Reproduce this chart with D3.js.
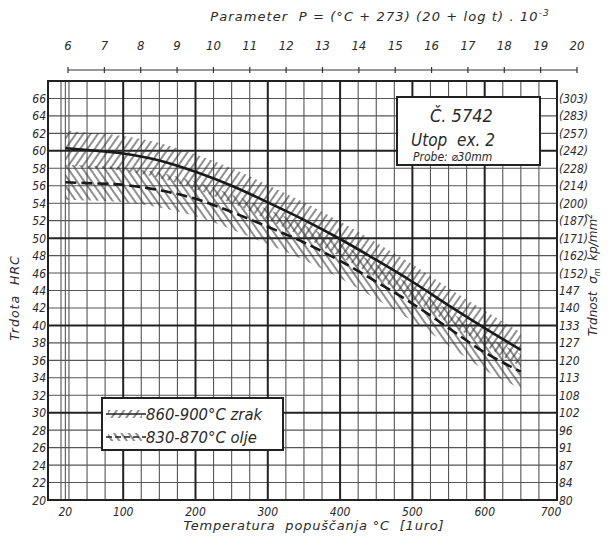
<!DOCTYPE html>
<html><head><meta charset="utf-8">
<script src="https://cdn.jsdelivr.net/npm/d3@7"></script>
<style>
body{margin:0;background:#fff}
text{font-family:"DejaVu Sans Condensed","DejaVu Sans",sans-serif;font-style:italic;fill:#2a2a2a}
text.wide{font-family:"DejaVu Sans",sans-serif}
</style>
</head><body>
<svg id="chart" width="615" height="540"></svg>
<script>
// Tempering temperature (°C) and hardness (HRC) for steel Č.5742 (Utop ex. 2)
const temps   = [20, 50, 100, 150, 200, 250, 300, 350, 400, 450, 500, 550, 600, 650];
const hrcAir  = [60.3, 60.1, 59.7, 58.9, 57.6, 56.0, 54.1, 52.1, 49.9, 47.5, 45.0, 42.3, 39.7, 37.2]; // 860-900°C zrak
const hrcOil  = [56.4, 56.3, 56.1, 55.5, 54.5, 53.0, 51.3, 49.5, 47.4, 45.0, 42.5, 39.7, 36.9, 34.7]; // 830-870°C olje
const scatterHalf = 2; // HRC spread around each curve

// Axis ticks
const tempTicks  = [20, 100, 200, 300, 400, 500, 600, 700];
const hrcTicks   = [66, 64, 62, 60, 58, 56, 54, 52, 50, 48, 46, 44, 42, 40, 38, 36, 34, 32, 30, 28, 26, 24, 22, 20];
const strengthLabels = ["(303)","(283)","(257)","(242)","(228)","(214)","(200)","(187)","(171)","(162)","(152)",
  "147","140","133","127","120","113","108","102","96","91","87","84","80"];
const paramTicks = [6, 7, 8, 9, 10, 11, 12, 13, 14, 15, 16, 17, 18, 19, 20];
const tempGridExtra = [14, 20];

const svg = d3.select("#chart");
const x = d3.scaleLinear().domain([-4, 700]).range([48, 557]);
const y = d3.scaleLinear().domain([20, 68]).range([500, 81]);
const xp = d3.scaleLinear().domain([6, 20]).range([68, 577]);

// hatch patterns
const defs = svg.append("defs");
function hatch(id, angle) {
  const p = defs.append("pattern").attr("id", id).attr("patternUnits", "userSpaceOnUse")
    .attr("width", 6).attr("height", 10).attr("patternTransform", `rotate(${angle})`);
  p.append("line").attr("x1", 1).attr("x2", 1).attr("y1", -1).attr("y2", 11)
    .attr("stroke", "#333").attr("stroke-width", 1.1);
}
hatch("hAir", 35);
hatch("hOil", -35);

// grid
const g = svg.append("g");
const minorT = d3.range(25, 700, 25).filter(t => t % 100 !== 0).concat(tempGridExtra);
const majorT = d3.range(100, 700, 100);
const minorH = d3.range(22, 68, 2).filter(h => h % 10 !== 0);
const majorH = [30, 40, 50, 60];
g.selectAll(".vm").data(minorT).join("line")
  .attr("x1", d => x(d)).attr("x2", d => x(d)).attr("y1", y(68)).attr("y2", y(20))
  .attr("stroke", "#555").attr("stroke-width", 1.1);
g.selectAll(".hm").data(minorH).join("line")
  .attr("x1", x(-4)).attr("x2", x(700)).attr("y1", d => y(d)).attr("y2", d => y(d))
  .attr("stroke", "#555").attr("stroke-width", 1.1);
g.selectAll(".vM").data(majorT).join("line")
  .attr("x1", d => x(d)).attr("x2", d => x(d)).attr("y1", y(68)).attr("y2", y(20))
  .attr("stroke", "#222").attr("stroke-width", 2);
g.selectAll(".hM").data(majorH).join("line")
  .attr("x1", x(-4)).attr("x2", x(700)).attr("y1", d => y(d)).attr("y2", d => y(d))
  .attr("stroke", "#222").attr("stroke-width", 2);
g.append("rect").attr("x", x(-4)).attr("y", y(68)).attr("width", x(700) - x(-4)).attr("height", y(20) - y(68))
  .attr("fill", "none").attr("stroke", "#222").attr("stroke-width", 2);

// scatter bands
const rows = temps.map((t, i) => ({t, air: hrcAir[i], oil: hrcOil[i]}));
const curve = d3.curveCatmullRom.alpha(0.5);
function band(key, fillId) {
  const area = d3.area().curve(curve)
    .x(d => x(d.t)).y0(d => y(d[key] - scatterHalf)).y1(d => y(d[key] + scatterHalf));
  svg.append("path").datum(rows).attr("d", area).attr("fill", `url(#${fillId})`);
}
band("air", "hAir");
band("oil", "hOil");

// curves
const line = key => d3.line().curve(curve).x(d => x(d.t)).y(d => y(d[key]));
svg.append("path").datum(rows).attr("d", line("air")).attr("fill", "none")
  .attr("stroke", "#1a1a1a").attr("stroke-width", 2.6);
svg.append("path").datum(rows).attr("d", line("oil")).attr("fill", "none")
  .attr("stroke", "#1a1a1a").attr("stroke-width", 2.6).attr("stroke-dasharray", "11,5");

// left axis labels
svg.append("g").selectAll("text").data(hrcTicks).join("text")
  .attr("x", 46).attr("y", d => y(d) + 4.5).attr("text-anchor", "end").attr("font-size", 12).text(d => d);
// right axis labels
svg.append("g").selectAll("text").data(hrcTicks).join("text")
  .attr("x", 559).attr("y", d => y(d) + 4.5).attr("font-size", 12)
  .text((d, i) => strengthLabels[i]);
// bottom axis labels
svg.append("g").selectAll("text").data(tempTicks).join("text")
  .attr("x", d => x(d) - (d === 700 ? 6 : 0)).attr("y", 516).attr("text-anchor", "middle").attr("font-size", 12).text(d => d);

// axis titles
svg.append("text").attr("class", "wide").attr("transform", "translate(19,298) rotate(-90)").attr("text-anchor", "middle")
  .attr("font-size", 12.5).attr("letter-spacing", 1).attr("xml:space", "preserve").text("Trdota  HRC");
const rt = svg.append("text").attr("class", "wide").attr("transform", "translate(597,275) rotate(-90)").attr("text-anchor", "middle")
  .attr("font-size", 12).attr("xml:space", "preserve");
rt.append("tspan").text("Trdnost  σ");
rt.append("tspan").attr("font-size", 8).attr("dy", 3).text("m");
rt.append("tspan").attr("dy", -3).text("  kp/mm");
rt.append("tspan").attr("font-size", 8).attr("dy", -5).text("2");
svg.append("text").attr("class", "wide").attr("x", 314).attr("y", 530).attr("text-anchor", "middle").attr("font-size", 13)
  .attr("letter-spacing", 0.8).attr("xml:space", "preserve").text("Temperatura  popuščanja °C  [1uro]");

// parameter axis on top
const ta = svg.append("g");
ta.append("line").attr("x1", xp(6)).attr("x2", xp(20)).attr("y1", 70).attr("y2", 70)
  .attr("stroke", "#333").attr("stroke-width", 1.2);
ta.selectAll(".tk").data(paramTicks).join("line")
  .attr("x1", d => xp(d)).attr("x2", d => xp(d)).attr("y1", 67).attr("y2", 73)
  .attr("stroke", "#333").attr("stroke-width", 1.2);
ta.selectAll("text").data(paramTicks).join("text")
  .attr("x", d => xp(d)).attr("y", 50).attr("text-anchor", "middle").attr("font-size", 13).text(d => d);
const pt = svg.append("text").attr("class", "wide").attr("x", 380).attr("y", 21).attr("text-anchor", "middle").attr("font-size", 13)
  .attr("letter-spacing", 1.1).attr("xml:space", "preserve");
pt.append("tspan").text("Parameter  P = (°C + 273) (20 + log t) . 10");
pt.append("tspan").attr("font-size", 9).attr("dy", -5).text("-3");

// steel designation box
const b = svg.append("g");
b.append("rect").attr("x", 397).attr("y", 97).attr("width", 143).attr("height", 68)
  .attr("fill", "#fff").attr("stroke", "#222").attr("stroke-width", 2);
b.append("text").attr("x", 430).attr("y", 122).attr("font-size", 18).text("Č. 5742");
b.append("text").attr("x", 411).attr("y", 146).attr("font-size", 17).attr("xml:space", "preserve").text("Utop  ex. 2");
b.append("text").attr("x", 413).attr("y", 161).attr("font-size", 12).text("Probe: ⌀30mm");

// legend
const lg = svg.append("g");
lg.append("rect").attr("x", 102).attr("y", 398).attr("width", 181).attr("height", 52)
  .attr("fill", "#fff").attr("stroke", "#222").attr("stroke-width", 2);
const legendItems = [
  {label: "860-900°C zrak", fill: "hAir", dash: null, cy: 414},
  {label: "830-870°C olje", fill: "hOil", dash: "6,3", cy: 437}
];
legendItems.forEach(it => {
  lg.append("rect").attr("x", 108).attr("y", it.cy - 4).attr("width", 34).attr("height", 8)
    .attr("fill", `url(#${it.fill})`);
  lg.append("line").attr("x1", 106).attr("x2", 146).attr("y1", it.cy).attr("y2", it.cy)
    .attr("stroke", "#222").attr("stroke-width", 1.6).attr("stroke-dasharray", it.dash);
  lg.append("text").attr("x", 146).attr("y", it.cy + 6).attr("font-size", 16.5).text(it.label);
});
</script>
</body></html>
